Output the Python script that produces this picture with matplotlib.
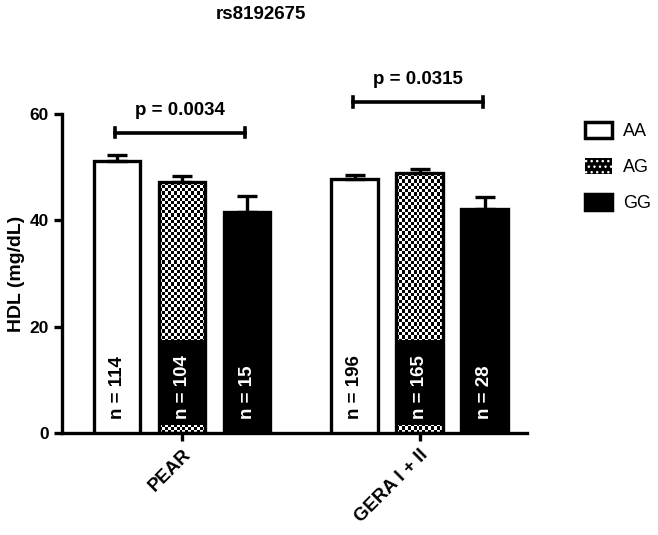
import numpy as np
import matplotlib.pyplot as plt
from matplotlib.patches import Patch

plt.rcParams['font.family'] = ['Liberation Sans', 'DejaVu Sans']
plt.rcParams['font.weight'] = 'bold'

cohorts = ['PEAR', 'GERA I + II']
genotypes = ['AA', 'AG', 'GG']
hdl_mean = {'AA': [51.2, 47.8], 'AG': [47.2, 48.8], 'GG': [41.6, 42.1]}
hdl_sem = {'AA': [1.0, 0.8], 'AG': [1.1, 0.9], 'GG': [3.0, 2.2]}
n_counts = {'AA': [114, 196], 'AG': [104, 165], 'GG': [15, 28]}
p_values = ['p = 0.0034', 'p = 0.0315']
p_heights = [56.5, 62.3]

group_x = np.array([0.0, 3.66])
offsets = {'AA': -1.0, 'AG': 0.0, 'GG': 1.0}
width = 0.72

fig = plt.figure(figsize=(6.58, 5.35), dpi=100)
ax = fig.add_axes([0.094, 0.191, 0.707, 0.596])

# checkerboard for AG bars
cells = np.indices((80, 16)).sum(axis=0) % 2

for g in genotypes:
    xs = group_x + offsets[g]
    for i, x in enumerate(xs):
        v = hdl_mean[g][i]
        if g == 'AG':
            ax.imshow(cells, cmap='gray', extent=[x - width / 2, x + width / 2, 0, v],
                      aspect='auto', interpolation='nearest', zorder=1)
            ax.bar(x, 16, bottom=1.5, width=width, color='black', zorder=2)
            fc = 'none'
        else:
            fc = 'white' if g == 'AA' else 'black'
        ax.bar(x, v, width=width, facecolor=fc, edgecolor='black', linewidth=2.4, zorder=3)
        ax.errorbar(x, v, yerr=[[0], [hdl_sem[g][i]]], fmt='none', ecolor='black',
                    elinewidth=2.4, capsize=7, capthick=2.4, zorder=4)
        tc = 'black' if g == 'AA' else 'white'
        ax.text(x, 2.6, f'n = {n_counts[g][i]}', rotation=90, ha='center', va='bottom',
                color=tc, fontsize=13.5, fontweight='bold', zorder=5)

# significance brackets
for i, gx in enumerate(group_x):
    x0, x1, y = gx - 1.03, gx + 0.97, p_heights[i]
    ax.plot([x0, x1], [y, y], color='black', lw=2.6, clip_on=False)
    ax.plot([x0, x0], [y - 0.9, y + 0.9], color='black', lw=2.6, clip_on=False)
    ax.plot([x1, x1], [y - 0.9, y + 0.9], color='black', lw=2.6, clip_on=False)
    ax.text((x0 + x1) / 2, y + 2.5, p_values[i], ha='center', va='bottom',
            fontsize=13.5, fontweight='bold', clip_on=False)

ax.set_xlim(-1.85, 5.31)
ax.set_ylim(0, 60)
ax.set_yticks([0, 20, 40, 60])
ax.set_xticks(group_x)
ax.set_xticklabels(cohorts, rotation=45, ha='right', rotation_mode='anchor',
                   fontsize=13.5, fontweight='bold')
ax.tick_params(axis='y', labelsize=12.5, width=2.4, length=6)
ax.tick_params(axis='x', width=2.4, length=6)
for lbl in ax.get_yticklabels():
    lbl.set_fontweight('bold')
ax.set_ylabel('HDL (mg/dL)', fontsize=14, fontweight='bold', labelpad=3)
for s in ['top', 'right']:
    ax.spines[s].set_visible(False)
for s in ['left', 'bottom']:
    ax.spines[s].set_linewidth(2.4)

fig.text(0.397, 0.972, 'rs8192675', ha='center', va='center', fontsize=13.5, fontweight='bold')

handles = [Patch(facecolor='white', edgecolor='black', linewidth=2.5),
           Patch(facecolor='black', edgecolor='white', hatch='...', linewidth=0),
           Patch(facecolor='black', edgecolor='black', linewidth=2.5)]
fig.legend(handles, genotypes, loc='upper left', bbox_to_anchor=(0.889, 0.772), frameon=False,
           borderpad=0, borderaxespad=0, handlelength=1.5, handleheight=0.95,
           handletextpad=0.6, labelspacing=1.0, prop={'weight': 'normal', 'size': 13})

fig.savefig('out.png', dpi=100)
